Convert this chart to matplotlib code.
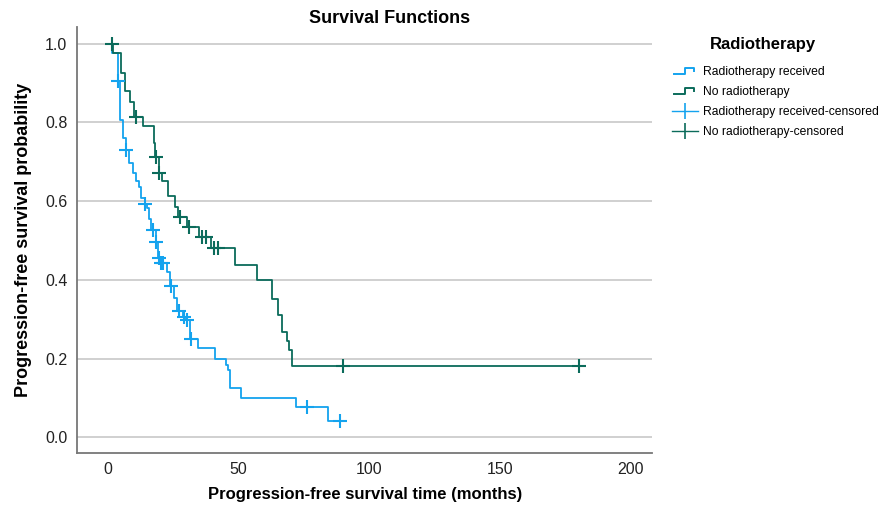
import numpy as np
import matplotlib
matplotlib.use("Agg")
import matplotlib.pyplot as plt
from matplotlib.lines import Line2D
from matplotlib.legend_handler import HandlerBase

plt.rcParams['font.family'] = ['Liberation Sans', 'DejaVu Sans']

# Radiotherapy received: event times (months) and survival after each event
rt_time = [0, 1.6, 4.0, 5.0, 5.9, 7.1, 8.4, 9.7, 11.0, 12.0, 13.0, 14.2, 15.1, 15.9,
           16.7, 18.4, 19.4, 20.2, 22.6, 23.8, 25.6, 26.6, 28.9, 29.8, 31.7, 34.5,
           41.3, 45.2, 46.0, 46.8, 50.9, 71.9, 84.2]
rt_surv = [1.0, 0.976, 0.904, 0.807, 0.760, 0.730, 0.696, 0.671, 0.650, 0.637, 0.607,
           0.593, 0.582, 0.555, 0.528, 0.497, 0.455, 0.444, 0.421, 0.384, 0.353, 0.321,
           0.305, 0.299, 0.251, 0.228, 0.200, 0.183, 0.170, 0.126, 0.101, 0.077, 0.041]
rt_censored = [4.2, 7.3, 14.5, 17.5, 18.6, 19.6, 20.5, 21.2, 24.2, 27.3, 29.3, 30.3,
               31.9, 76.4, 88.8]

# No radiotherapy
no_time = [0, 2.3, 5.1, 6.6, 8.8, 10.1, 13.6, 17.9, 18.3, 19.6, 20.9, 23.2, 26.0, 26.9,
           30.4, 34.9, 39.4, 48.7, 57.0, 62.7, 65.1, 66.8, 68.5, 69.4, 70.4]
no_surv = [1.0, 0.977, 0.925, 0.879, 0.852, 0.813, 0.790, 0.747, 0.713, 0.671, 0.650,
           0.612, 0.586, 0.561, 0.535, 0.510, 0.480, 0.438, 0.400, 0.351, 0.310, 0.268,
           0.245, 0.222, 0.181]
no_censored = [1.8, 11.1, 18.4, 19.9, 27.8, 31.2, 36.0, 37.5, 40.7, 42.3, 90.1, 180.1]

groups = ["Radiotherapy received", "No radiotherapy"]
colors = ["#14a3ee", "#0b6b5b"]

x_ticks = [0, 50, 100, 150, 200]
y_ticks = [0.0, 0.2, 0.4, 0.6, 0.8, 1.0]


class StepHandler(HandlerBase):
    def create_artists(self, legend, orig_handle, xdescent, ydescent, width, height, fontsize, trans):
        xs = np.array([0.05, 0.5, 0.5, 0.85, 0.85]) * width - xdescent
        ys = np.array([0.1, 0.1, 0.8, 0.8, 0.45]) * height - ydescent
        ln = Line2D(xs, ys, color=orig_handle.get_color(), lw=1.4)
        ln.set_transform(trans)
        return [ln]


def surv_at(times, surv, t):
    idx = np.searchsorted(times, t, side='right') - 1
    return np.asarray(surv)[idx]


fig = plt.figure(figsize=(8.88, 5.25), dpi=100)
ax = fig.add_axes([0.0867, 0.1377, 0.648, 0.8113])

data = [(rt_time, rt_surv, rt_censored), (no_time, no_surv, no_censored)]
for (t, s, c), col in zip(data, colors):
    xs = list(t) + [max(c)]
    ys = list(s) + [s[-1]]
    ax.step(xs, ys, where='post', color=col, lw=1.3, zorder=3)
    ax.plot(c, surv_at(t, s, c), ls='none', marker='+', ms=10, mew=1.5,
            color=col, zorder=4)

ax.set_xlim(-11.6, 208.2)
ax.set_ylim(-0.039, 1.043)
ax.set_xticks(x_ticks)
ax.set_yticks(y_ticks)
ax.set_yticklabels([f"{v:.1f}" for v in y_ticks])
ax.grid(axis='y', color='#c8c8c8', lw=1.2)
ax.set_axisbelow(True)
ax.tick_params(length=0, labelsize=11.5, colors='#222222', pad=7)
for side in ['top', 'right']:
    ax.spines[side].set_visible(False)
for side in ['left', 'bottom']:
    ax.spines[side].set_color('#777777')
    ax.spines[side].set_linewidth(1.3)

fig.text(0.439, 0.964, "Survival Functions", fontsize=13, fontweight='bold',
         ha='center', va='center')
ax.set_xlabel("Progression-free survival time (months)", fontsize=12,
              fontweight='bold', labelpad=7)
ax.set_ylabel("Progression-free survival probability", fontsize=13,
              fontweight='bold', labelpad=9)

# legend title drawn on its own, entries below it
fig.text(763 / 888, 1 - 44 / 525, "Radiotherapy", fontsize=12, fontweight='bold',
         ha='center', va='center')
handles = [Line2D([], [], color=colors[0]), Line2D([], [], color=colors[1]),
           Line2D([], [], color=colors[0], marker='|', ms=12, mew=1.2, lw=1.0),
           Line2D([], [], color=colors[1], marker='|', ms=12, mew=1.2, lw=1.0)]
labels = groups + [g + "-censored" for g in groups]
fig.legend(handles, labels, loc='upper left', bbox_to_anchor=(0.745, 1 - 55 / 525),
           frameon=False, fontsize=8.7, handlelength=2.1, labelspacing=0.66,
           handletextpad=0.4,
           handler_map={handles[0]: StepHandler(), handles[1]: StepHandler()})

fig.savefig("out.png", dpi=100, facecolor='white')
